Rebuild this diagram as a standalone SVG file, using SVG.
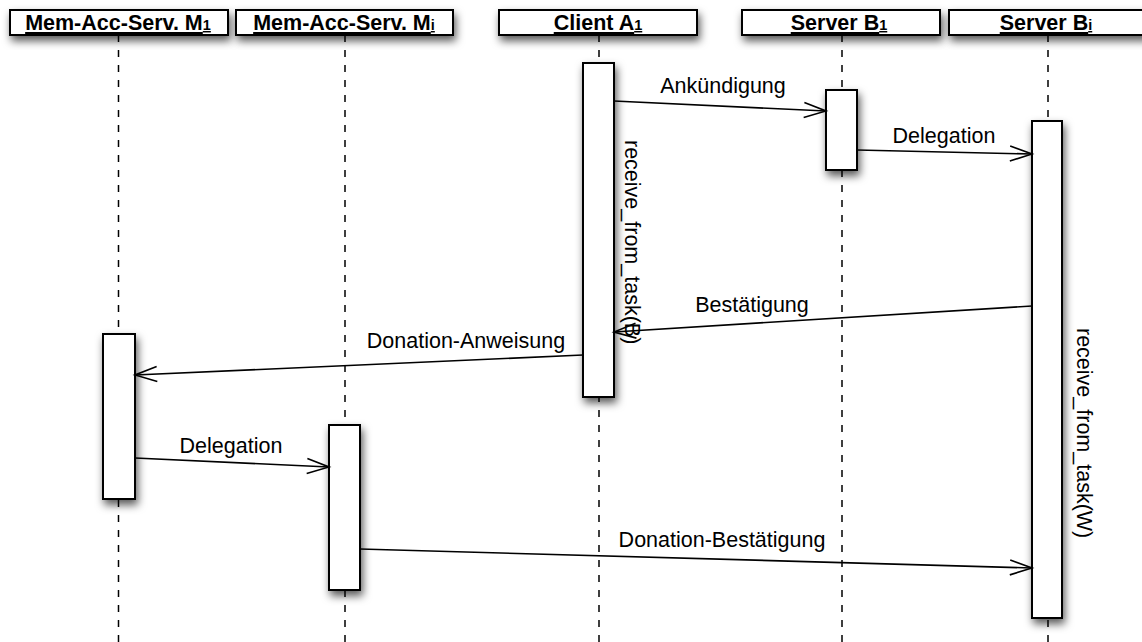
<svg xmlns="http://www.w3.org/2000/svg" width="1142" height="642" viewBox="0 0 1142 642">
  <defs>
    <filter id="sh" x="-40%" y="-40%" width="200%" height="200%">
      <feDropShadow dx="2" dy="5" stdDeviation="4.5" flood-color="#000" flood-opacity="0.65"/>
    </filter>
    <marker id="arr" markerUnits="userSpaceOnUse" markerWidth="30" markerHeight="20" refX="0" refY="0" viewBox="-24 -10 26 20" orient="auto" overflow="visible">
      <path d="M-22,-7.5 L0,0 L-22,7.5" fill="none" stroke="#000" stroke-width="1.6"/>
    </marker>
  </defs>
  <style>
    .head { fill: #fff; stroke: #000; stroke-width: 2; filter: url(#sh); }
    .act { fill: #fff; stroke: #000; stroke-width: 2; filter: url(#sh); }
    .life { stroke: #000; stroke-width: 1.5; stroke-dasharray: 7 8; fill: none; }
    .htxt { font-family: "Liberation Sans", Arial, sans-serif; font-weight: bold; font-size: 21.5px; text-anchor: middle; text-decoration: underline; fill: #000; }
    .sub { font-size: 14.5px; }
    .lbl { font-family: "Liberation Sans", Arial, sans-serif; font-size: 21.5px; text-anchor: middle; fill: #000; }
    .rot { font-family: "Liberation Sans", Arial, sans-serif; font-size: 21.5px; fill: #000; }
    .msg { stroke: #000; stroke-width: 1.6; fill: none; marker-end: url(#arr); }
  </style>
  <rect width="1142" height="642" fill="#fff"/>

  <g id="node-m1">
    <line class="life" x1="118.5" y1="35" x2="118.5" y2="642"/>
    <rect class="head" x="10" y="10" width="218" height="25"/>
    <text class="htxt" x="118" y="30">Mem-Acc-Serv. M<tspan class="sub">1</tspan></text>
    <rect class="act" x="103" y="334" width="32" height="165"/>
  </g>

  <g id="node-mi">
    <line class="life" x1="345" y1="35" x2="345" y2="642"/>
    <rect class="head" x="236" y="10" width="217" height="25"/>
    <text class="htxt" x="344" y="30">Mem-Acc-Serv. M<tspan class="sub">i</tspan></text>
    <rect class="act" x="329" y="425" width="31" height="165"/>
  </g>

  <g id="node-a1">
    <line class="life" x1="599" y1="35" x2="599" y2="642"/>
    <rect class="head" x="499" y="10" width="198" height="25"/>
    <text class="htxt" x="598" y="30">Client A<tspan class="sub">1</tspan></text>
    <rect class="act" x="583" y="63" width="31" height="334"/>
    <text class="rot" transform="translate(625,140) rotate(90)">receive_from_task(B)</text>
  </g>

  <g id="node-b1">
    <line class="life" x1="842" y1="35" x2="842" y2="642"/>
    <rect class="head" x="742" y="10" width="198" height="25"/>
    <text class="htxt" x="839" y="30">Server B<tspan class="sub">1</tspan></text>
    <rect class="act" x="826" y="90" width="31" height="80"/>
  </g>

  <g id="node-bi">
    <line class="life" x1="1048" y1="35" x2="1048" y2="642"/>
    <rect class="head" x="949" y="10" width="198" height="25"/>
    <text class="htxt" x="1046" y="30">Server B<tspan class="sub">i</tspan></text>
    <rect class="act" x="1032" y="121" width="30" height="497"/>
    <text class="rot" transform="translate(1077,328) rotate(90)">receive_from_task(W)</text>
  </g>

  <g id="connectors">
    <line class="msg" x1="614" y1="101" x2="826" y2="111"/>
    <text class="lbl" x="723" y="93">Ankündigung</text>

    <line class="msg" x1="857" y1="150" x2="1032" y2="154"/>
    <text class="lbl" x="944" y="143">Delegation</text>

    <line class="msg" x1="1032" y1="306" x2="614" y2="332"/>
    <text class="lbl" x="752" y="312">Bestätigung</text>

    <line class="msg" x1="583" y1="355" x2="135" y2="375"/>
    <text class="lbl" x="466" y="348">Donation-Anweisung</text>

    <line class="msg" x1="135" y1="458" x2="329" y2="467"/>
    <text class="lbl" x="231" y="453">Delegation</text>

    <line class="msg" x1="360" y1="549" x2="1032" y2="568"/>
    <text class="lbl" x="722" y="547">Donation-Bestätigung</text>
  </g>
</svg>
